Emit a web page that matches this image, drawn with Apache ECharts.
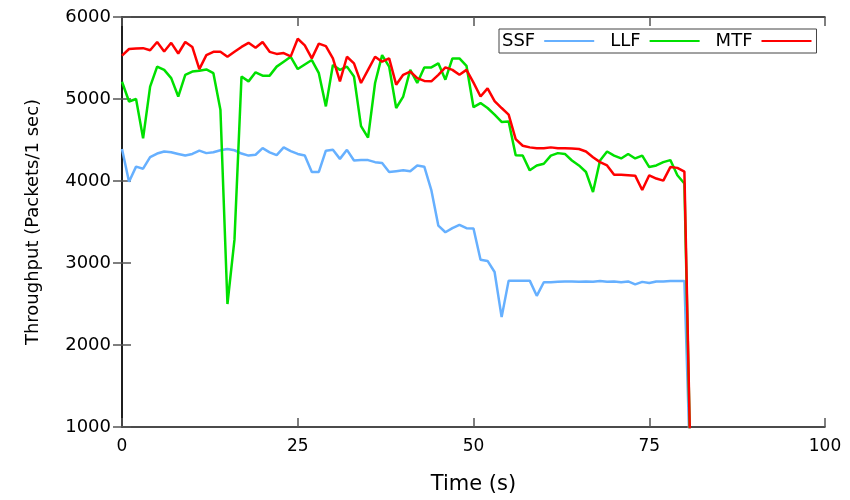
<!DOCTYPE html>
<html>
<head>
<meta charset="utf-8">
<script src="https://cdn.jsdelivr.net/npm/echarts@6/dist/echarts.min.js"></script>
<style>html,body{margin:0;padding:0;background:#fff}#c{width:850px;height:500px}</style>
</head>
<body>
<div id="c"></div>
<script>
const seriesNames = ['SSF', 'LLF', 'MTF'];
const time = [0,1,2,3,4,5,6,7,8,9,10,11,12,13,14,15,16,17,18,19,20,21,22,23,24,25,26,27,28,29,30,31,32,33,34,35,36,37,38,39,40,41,42,43,44,45,46,47,48,49,50,51,52,53,54,55,56,57,58,59,60,61,62,63,64,65,66,67,68,69,70,71,72,73,74,75,76,77,78,79,80,81];
const ssf = [4390,3990,4175,4150,4290,4335,4360,4350,4330,4310,4330,4370,4340,4350,4375,4390,4375,4335,4310,4320,4400,4350,4315,4410,4365,4330,4310,4110,4110,4370,4380,4270,4380,4250,4255,4255,4230,4220,4110,4120,4130,4120,4190,4175,3890,3455,3375,3425,3465,3425,3420,3040,3025,2890,2340,2785,2785,2785,2785,2600,2765,2765,2770,2775,2775,2770,2775,2770,2780,2770,2775,2765,2775,2740,2770,2755,2775,2775,2780,2780,2780,0];
const llf = [5210,4970,5000,4520,5150,5395,5355,5255,5030,5295,5335,5345,5360,5315,4870,2500,3285,5275,5215,5325,5285,5285,5395,5455,5515,5365,5420,5475,5315,4910,5415,5355,5395,5275,4670,4530,5195,5535,5395,4890,5030,5355,5195,5385,5385,5435,5235,5495,5495,5405,4900,4950,4890,4810,4720,4725,4315,4310,4130,4190,4210,4310,4340,4330,4250,4190,4110,3865,4250,4360,4310,4275,4330,4275,4310,4170,4190,4230,4255,4070,3970,0];
const mtf = [5530,5610,5615,5620,5595,5695,5580,5685,5555,5695,5635,5365,5535,5575,5575,5515,5575,5635,5685,5625,5695,5575,5550,5560,5520,5735,5655,5495,5675,5645,5495,5215,5515,5435,5195,5355,5515,5455,5495,5175,5295,5335,5255,5220,5215,5295,5385,5355,5295,5355,5200,5030,5130,4975,4890,4810,4510,4430,4410,4400,4400,4410,4400,4400,4395,4390,4360,4290,4230,4190,4075,4075,4070,4065,3890,4070,4030,4005,4170,4160,4115,0];
const colors = ['#66b0ff', '#00e000', '#ff0000'];

const FONT = 'DejaVu Sans';
const chart = echarts.init(document.getElementById('c'), null, {renderer: 'canvas'});
const pairs = arr => time.map((t, i) => [t, arr[i]]);
const allData = [ssf, llf, mtf];

const tickStyle = {show: true, inside: true, length: 9, lineStyle: {color: '#555', width: 1.5}};
const lineStyleAxis = {show: true, lineStyle: {color: '#111', width: 1.5}};

chart.setOption({
  animation: false,
  backgroundColor: '#fff',
  grid: {left: 122, right: 25, top: 17, bottom: 67, containLabel: false},
  legend: {
    data: seriesNames,
    left: 499, top: 29,
    align: 'right',
    icon: 'rect',
    itemWidth: 50, itemHeight: 2,
    itemGap: 16,
    padding: [3, 5, 3, 3],
    borderColor: '#444', borderWidth: 1,
    backgroundColor: '#fff',
    textStyle: {fontFamily: FONT, fontSize: 18, color: '#000', padding: [0, 4, 0, 0]}
  },
  xAxis: [{
    type: 'value', min: 0, max: 100, interval: 25,
    name: 'Time (s)', nameLocation: 'middle', nameGap: 47,
    nameTextStyle: {fontFamily: FONT, fontSize: 21, color: '#000', verticalAlign: 'top'},
    axisLine: lineStyleAxis, axisTick: tickStyle,
    axisLabel: {fontFamily: FONT, fontSize: 17, color: '#000', margin: 11},
    splitLine: {show: false}
  }, {
    type: 'value', min: 0, max: 100, interval: 25, position: 'top',
    axisLine: lineStyleAxis, axisTick: tickStyle, axisLabel: {show: false}, splitLine: {show: false}
  }],
  yAxis: [{
    type: 'value', min: 1000, max: 6000, interval: 1000,
    name: 'Throughput (Packets/1 sec)', nameLocation: 'middle', nameGap: 80, nameRotate: 90,
    nameTextStyle: {fontFamily: FONT, fontSize: 18, color: '#000'},
    axisLine: lineStyleAxis, axisTick: tickStyle,
    axisLabel: {fontFamily: FONT, fontSize: 18, color: '#000', margin: 11, formatter: v => String(v)},
    splitLine: {show: false}
  }, {
    type: 'value', min: 1000, max: 6000, interval: 1000, position: 'right',
    axisLine: lineStyleAxis, axisTick: tickStyle, axisLabel: {show: false}, splitLine: {show: false}
  }],
  series: seriesNames.map((n, i) => ({
    name: n, type: 'line', xAxisIndex: 0, yAxisIndex: 0,
    data: pairs(allData[i]),
    showSymbol: false, symbol: 'none',
    color: colors[i],
    lineStyle: {color: colors[i], width: 2.5},
    clip: true, z: 2 + i
  }))
});
</script>
</body>
</html>
